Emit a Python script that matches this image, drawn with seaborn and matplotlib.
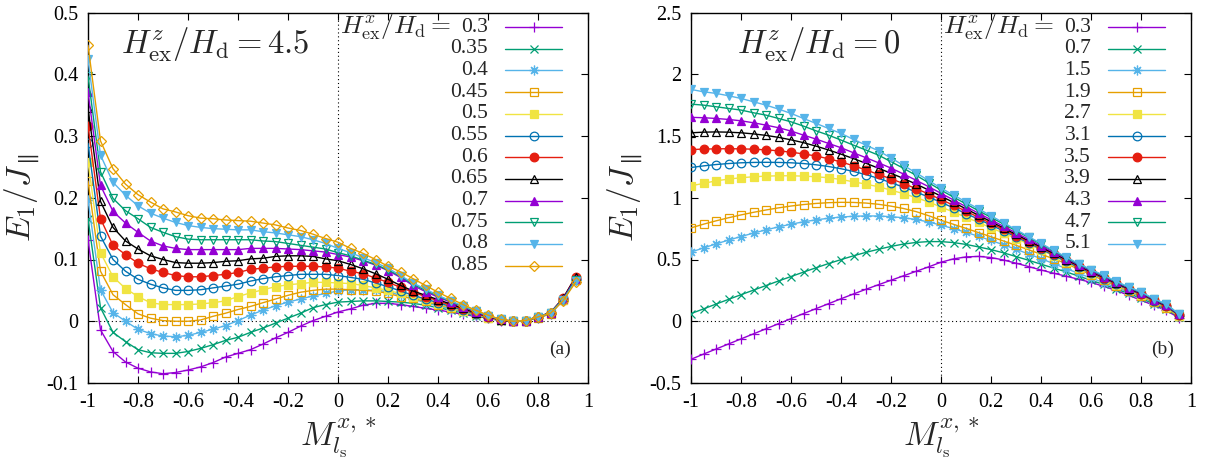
import matplotlib
matplotlib.use("Agg")
import matplotlib.pyplot as plt
import seaborn as sns
import pandas as pd

# ---------------- data ----------------
x_vals = [-1.0, -0.95, -0.9, -0.85, -0.8, -0.75, -0.7, -0.65, -0.6, -0.55,
          -0.5, -0.45, -0.4, -0.35, -0.3, -0.25, -0.2, -0.15, -0.1, -0.05,
          0.0, 0.05, 0.1, 0.15, 0.2, 0.25, 0.3, 0.35, 0.4, 0.45,
          0.5, 0.55, 0.6, 0.65, 0.7, 0.75, 0.8, 0.85, 0.9, 0.95]

# panel (a): H^z_ex/H_d = 4.5
labels_a = ["0.3", "0.35", "0.4", "0.45", "0.5", "0.55", "0.6", "0.65", "0.7", "0.75", "0.8", "0.85"]
a_03 = [0.132, -0.014, -0.049, -0.066, -0.076, -0.082, -0.085, -0.083, -0.079, -0.074, -0.067, -0.058, -0.052, -0.046, -0.037, -0.027, -0.018, -0.008, 0.001, 0.008, 0.015, 0.020, 0.026, 0.029, 0.029, 0.027, 0.024, 0.021, 0.018, 0.015, 0.011, 0.008, 0.005, 0.001, 0.000, 0.001, 0.006, 0.012, 0.035, 0.068]
a_035 = [0.166, 0.022, -0.018, -0.033, -0.046, -0.051, -0.052, -0.052, -0.049, -0.044, -0.038, -0.031, -0.026, -0.018, -0.011, -0.003, 0.005, 0.013, 0.022, 0.027, 0.031, 0.032, 0.033, 0.033, 0.032, 0.031, 0.029, 0.026, 0.022, 0.018, 0.013, 0.009, 0.005, 0.001, 0.000, 0.001, 0.006, 0.012, 0.035, 0.068]
a_04 = [0.197, 0.051, 0.014, 0.000, -0.013, -0.020, -0.024, -0.025, -0.023, -0.018, -0.013, -0.007, 0.001, 0.010, 0.018, 0.025, 0.031, 0.036, 0.041, 0.045, 0.049, 0.051, 0.051, 0.050, 0.048, 0.042, 0.036, 0.030, 0.025, 0.020, 0.015, 0.010, 0.006, 0.002, 0.000, 0.001, 0.006, 0.012, 0.035, 0.067]
a_045 = [0.227, 0.081, 0.043, 0.027, 0.012, 0.005, 0.001, 0.000, 0.000, 0.002, 0.008, 0.013, 0.019, 0.024, 0.030, 0.036, 0.042, 0.047, 0.050, 0.052, 0.052, 0.051, 0.050, 0.049, 0.045, 0.040, 0.037, 0.032, 0.027, 0.022, 0.016, 0.011, 0.006, 0.002, 0.000, 0.001, 0.006, 0.012, 0.035, 0.066]
a_05 = [0.258, 0.111, 0.072, 0.053, 0.040, 0.030, 0.027, 0.027, 0.027, 0.028, 0.030, 0.033, 0.040, 0.046, 0.051, 0.056, 0.059, 0.061, 0.063, 0.063, 0.062, 0.061, 0.058, 0.054, 0.050, 0.045, 0.039, 0.034, 0.028, 0.023, 0.017, 0.012, 0.006, 0.002, 0.000, 0.001, 0.007, 0.013, 0.035, 0.068]
a_055 = [0.288, 0.138, 0.100, 0.081, 0.068, 0.060, 0.054, 0.050, 0.050, 0.051, 0.054, 0.057, 0.060, 0.065, 0.069, 0.072, 0.074, 0.076, 0.076, 0.076, 0.074, 0.071, 0.068, 0.062, 0.056, 0.049, 0.042, 0.036, 0.030, 0.024, 0.018, 0.012, 0.007, 0.002, 0.000, 0.001, 0.007, 0.013, 0.036, 0.069]
a_06 = [0.317, 0.166, 0.123, 0.108, 0.094, 0.085, 0.079, 0.074, 0.072, 0.072, 0.074, 0.076, 0.079, 0.084, 0.086, 0.088, 0.089, 0.089, 0.089, 0.088, 0.086, 0.081, 0.077, 0.070, 0.063, 0.055, 0.047, 0.040, 0.033, 0.026, 0.020, 0.013, 0.007, 0.002, 0.000, 0.001, 0.007, 0.014, 0.037, 0.072]
a_065 = [0.345, 0.194, 0.152, 0.130, 0.117, 0.106, 0.100, 0.095, 0.094, 0.094, 0.095, 0.097, 0.098, 0.101, 0.102, 0.105, 0.106, 0.106, 0.105, 0.101, 0.098, 0.092, 0.085, 0.077, 0.068, 0.058, 0.049, 0.042, 0.035, 0.028, 0.021, 0.014, 0.008, 0.002, 0.000, 0.001, 0.007, 0.014, 0.037, 0.071]
a_07 = [0.371, 0.220, 0.178, 0.159, 0.144, 0.130, 0.122, 0.118, 0.116, 0.116, 0.116, 0.116, 0.116, 0.118, 0.118, 0.118, 0.117, 0.116, 0.114, 0.112, 0.108, 0.104, 0.098, 0.091, 0.082, 0.071, 0.058, 0.048, 0.039, 0.031, 0.023, 0.015, 0.008, 0.003, 0.000, 0.001, 0.007, 0.014, 0.036, 0.069]
a_075 = [0.397, 0.242, 0.199, 0.179, 0.166, 0.152, 0.144, 0.137, 0.133, 0.132, 0.132, 0.132, 0.132, 0.132, 0.130, 0.129, 0.126, 0.123, 0.120, 0.117, 0.111, 0.106, 0.099, 0.092, 0.083, 0.073, 0.060, 0.050, 0.041, 0.032, 0.024, 0.016, 0.009, 0.003, 0.000, 0.001, 0.007, 0.014, 0.035, 0.067]
a_08 = [0.424, 0.269, 0.225, 0.204, 0.187, 0.175, 0.167, 0.160, 0.155, 0.152, 0.150, 0.149, 0.148, 0.148, 0.145, 0.143, 0.140, 0.137, 0.132, 0.126, 0.118, 0.111, 0.103, 0.095, 0.086, 0.074, 0.062, 0.052, 0.042, 0.033, 0.025, 0.017, 0.009, 0.003, 0.000, 0.001, 0.007, 0.013, 0.034, 0.065]
a_085 = [0.447, 0.292, 0.247, 0.222, 0.205, 0.193, 0.182, 0.177, 0.171, 0.167, 0.166, 0.164, 0.163, 0.162, 0.159, 0.156, 0.151, 0.147, 0.141, 0.134, 0.128, 0.118, 0.110, 0.100, 0.089, 0.080, 0.069, 0.058, 0.047, 0.037, 0.027, 0.018, 0.010, 0.003, 0.000, 0.001, 0.007, 0.013, 0.033, 0.063]
series_a = [a_03, a_035, a_04, a_045, a_05, a_055, a_06, a_065, a_07, a_075, a_08, a_085]

# panel (b): H^z_ex/H_d = 0
labels_b = ["0.3", "0.7", "1.5", "1.9", "2.7", "3.1", "3.5", "3.9", "4.3", "4.7", "5.1"]
b_03 = [-0.308, -0.266, -0.225, -0.184, -0.143, -0.102, -0.061, -0.020, 0.021, 0.062, 0.102, 0.142, 0.182, 0.221, 0.259, 0.296, 0.332, 0.368, 0.404, 0.440, 0.478, 0.505, 0.521, 0.525, 0.516, 0.496, 0.470, 0.443, 0.415, 0.389, 0.365, 0.340, 0.315, 0.283, 0.250, 0.210, 0.170, 0.130, 0.088, 0.030]
b_07 = [0.062, 0.100, 0.139, 0.177, 0.215, 0.252, 0.289, 0.326, 0.362, 0.398, 0.433, 0.467, 0.499, 0.530, 0.558, 0.583, 0.606, 0.625, 0.638, 0.645, 0.645, 0.637, 0.622, 0.602, 0.580, 0.554, 0.524, 0.494, 0.462, 0.431, 0.400, 0.366, 0.332, 0.298, 0.262, 0.225, 0.186, 0.142, 0.098, 0.038]
b_15 = [0.560, 0.594, 0.626, 0.657, 0.686, 0.714, 0.740, 0.764, 0.786, 0.805, 0.821, 0.834, 0.844, 0.850, 0.853, 0.852, 0.847, 0.838, 0.824, 0.804, 0.778, 0.750, 0.720, 0.688, 0.654, 0.619, 0.583, 0.545, 0.507, 0.467, 0.427, 0.388, 0.350, 0.313, 0.275, 0.236, 0.198, 0.150, 0.106, 0.042]
b_19 = [0.756, 0.786, 0.813, 0.838, 0.861, 0.882, 0.901, 0.918, 0.933, 0.945, 0.954, 0.960, 0.963, 0.962, 0.957, 0.947, 0.932, 0.913, 0.888, 0.855, 0.818, 0.785, 0.752, 0.718, 0.684, 0.650, 0.615, 0.579, 0.543, 0.506, 0.468, 0.422, 0.376, 0.332, 0.288, 0.245, 0.205, 0.155, 0.110, 0.040]
b_27 = [1.097, 1.116, 1.137, 1.151, 1.162, 1.170, 1.175, 1.178, 1.178, 1.175, 1.170, 1.162, 1.148, 1.129, 1.110, 1.089, 1.062, 1.033, 1.001, 0.966, 0.925, 0.884, 0.842, 0.800, 0.757, 0.714, 0.670, 0.625, 0.578, 0.530, 0.480, 0.432, 0.386, 0.341, 0.295, 0.251, 0.212, 0.161, 0.116, 0.046]
b_31 = [1.245, 1.258, 1.269, 1.277, 1.283, 1.286, 1.287, 1.286, 1.283, 1.277, 1.267, 1.253, 1.235, 1.213, 1.187, 1.157, 1.122, 1.086, 1.047, 1.006, 0.963, 0.918, 0.872, 0.826, 0.779, 0.731, 0.683, 0.634, 0.584, 0.535, 0.485, 0.436, 0.390, 0.346, 0.300, 0.256, 0.217, 0.165, 0.120, 0.050]
b_35 = [1.390, 1.394, 1.396, 1.397, 1.396, 1.393, 1.388, 1.380, 1.369, 1.355, 1.338, 1.316, 1.290, 1.259, 1.225, 1.189, 1.153, 1.115, 1.074, 1.031, 0.986, 0.939, 0.891, 0.842, 0.792, 0.743, 0.693, 0.643, 0.594, 0.544, 0.495, 0.445, 0.397, 0.352, 0.306, 0.262, 0.222, 0.170, 0.125, 0.053]
b_39 = [1.526, 1.531, 1.533, 1.531, 1.526, 1.517, 1.505, 1.489, 1.469, 1.446, 1.418, 1.387, 1.353, 1.317, 1.279, 1.239, 1.198, 1.156, 1.111, 1.063, 1.013, 0.962, 0.910, 0.858, 0.806, 0.755, 0.703, 0.652, 0.601, 0.550, 0.500, 0.450, 0.402, 0.357, 0.310, 0.265, 0.226, 0.173, 0.128, 0.055]
b_43 = [1.651, 1.648, 1.642, 1.634, 1.623, 1.607, 1.588, 1.567, 1.540, 1.507, 1.475, 1.440, 1.405, 1.364, 1.324, 1.283, 1.240, 1.192, 1.142, 1.090, 1.036, 0.982, 0.928, 0.875, 0.822, 0.768, 0.716, 0.663, 0.611, 0.559, 0.508, 0.456, 0.408, 0.362, 0.315, 0.270, 0.230, 0.176, 0.132, 0.056]
b_47 = [1.758, 1.750, 1.737, 1.723, 1.710, 1.688, 1.669, 1.642, 1.615, 1.580, 1.542, 1.507, 1.467, 1.426, 1.386, 1.345, 1.292, 1.238, 1.182, 1.122, 1.062, 1.005, 0.950, 0.895, 0.841, 0.787, 0.733, 0.679, 0.624, 0.569, 0.515, 0.462, 0.414, 0.368, 0.320, 0.274, 0.234, 0.180, 0.136, 0.058]
b_51 = [1.877, 1.858, 1.845, 1.826, 1.804, 1.777, 1.750, 1.718, 1.683, 1.642, 1.602, 1.561, 1.521, 1.472, 1.426, 1.380, 1.322, 1.262, 1.202, 1.140, 1.078, 1.022, 0.966, 0.910, 0.854, 0.798, 0.742, 0.686, 0.630, 0.575, 0.521, 0.467, 0.419, 0.373, 0.324, 0.278, 0.238, 0.184, 0.140, 0.062]
series_b = [b_03, b_07, b_15, b_19, b_27, b_31, b_35, b_39, b_43, b_47, b_51]

x_ticks = [-1, -0.8, -0.6, -0.4, -0.2, 0, 0.2, 0.4, 0.6, 0.8, 1]
x_tick_labels = ["-1", "-0.8", "-0.6", "-0.4", "-0.2", "0", "0.2", "0.4", "0.6", "0.8", "1"]
ya_ticks = [-0.1, 0, 0.1, 0.2, 0.3, 0.4, 0.5]
ya_tick_labels = ["-0.1", "0", "0.1", "0.2", "0.3", "0.4", "0.5"]
yb_ticks = [-0.5, 0, 0.5, 1, 1.5, 2, 2.5]
yb_tick_labels = ["-0.5", "0", "0.5", "1", "1.5", "2", "2.5"]

# ---------------- style ----------------
COLORS = ["#9400D3", "#009E73", "#56B4E9", "#E69F00", "#F0E442", "#0072B2",
          "#E51E10", "#000000", "#9400D3", "#009E73", "#56B4E9", "#E69F00"]
STYLES = [("+", True, 7), ("x", True, 5.5), ((8, 2, 0), True, 7), ("s", False, 5.8),
          ("s", True, 5.8), ("o", False, 6.2), ("o", True, 6.2), ("^", False, 6.2),
          ("^", True, 5.8), ("v", False, 6.2), ("v", True, 5.8), ("D", False, 5)]

sns.set_style("ticks")
plt.rcParams["font.family"] = ["Liberation Serif", "DejaVu Serif"]
plt.rcParams["mathtext.fontset"] = "cm"
plt.rcParams["axes.unicode_minus"] = False

fig = plt.figure(figsize=(12.14, 4.67), dpi=100)
ax_a = fig.add_axes([88 / 1214, 1 - 383 / 467, 500 / 1214, 370.5 / 467])
ax_b = fig.add_axes([691 / 1214, 1 - 383 / 467, 500 / 1214, 370.5 / 467])


def marker_kw(i):
    m, filled, ms = STYLES[i]
    c = COLORS[i]
    return dict(marker=m, markersize=ms, markeredgecolor=c,
                markerfacecolor=c if filled else "none", markeredgewidth=0.9)


def draw_panel(ax, series, labels, ylim, yt, ytl, title, tag):
    ax.axhline(0, color="black", lw=0.8, ls=(0, (1, 2.5)), zorder=1)
    ax.axvline(0, color="black", lw=0.8, ls=(0, (1, 2.5)), zorder=1)
    for i, vals in enumerate(series):
        df = pd.DataFrame({"M": x_vals, "E": vals})
        sns.lineplot(data=df, x="M", y="E", ax=ax, color=COLORS[i], lw=1.0,
                     estimator=None, sort=False, legend=False, zorder=3 + i,
                     **marker_kw(i))
    ax.set_xlim(-1, 1)
    ax.set_ylim(*ylim)
    ax.set_xticks(x_ticks)
    ax.set_xticklabels(x_tick_labels)
    ax.set_yticks(yt)
    ax.set_yticklabels(ytl)
    ax.tick_params(direction="in", top=True, right=True, length=5, width=0.8,
                   labelsize=14.5, pad=7, colors="black")
    for s in ax.spines.values():
        s.set_linewidth(1.0)
        s.set_color("black")
    ax.set_xlabel(r"$M_{l_{\rm s}}^{x,*}$", fontsize=24)
    ax.set_ylabel(r"$E_1/J_{\parallel}$", fontsize=24)
    ax.text(0.255, 0.912, title, transform=ax.transAxes, ha="center", va="center", fontsize=23.5)
    ax.text(0.944, 0.09, tag, transform=ax.transAxes, ha="center", va="center", fontsize=14)
    # key (gnuplot-style: label then sample)
    for i, lab in enumerate(labels):
        ypx = 27 + 21.7 * i
        yf = 1 - (ypx - 12.5) / 370.5
        ax.text(0.80, yf, lab, transform=ax.transAxes, ha="right", va="center", fontsize=15.5)
        if i == 0:
            ax.text(0.727, yf, r"$H^x_{\rm ex}/H_{\rm d}=$", transform=ax.transAxes,
                    ha="right", va="center", fontsize=18.5)
        ax.plot([0.834, 0.948], [yf, yf], transform=ax.transAxes, color=COLORS[i],
                lw=1.0, clip_on=False, zorder=20)
        ax.plot([0.891], [yf], transform=ax.transAxes, color=COLORS[i], lw=0,
                clip_on=False, zorder=21, **marker_kw(i))


draw_panel(ax_a, series_a, labels_a, (-0.1, 0.5), ya_ticks, ya_tick_labels,
           r"$H^z_{\rm ex}/H_{\rm d}=4.5$", "(a)")
draw_panel(ax_b, series_b, labels_b, (-0.5, 2.5), yb_ticks, yb_tick_labels,
           r"$H^z_{\rm ex}/H_{\rm d}=0$", "(b)")

ax_a.yaxis.set_label_coords(-0.092, 0.5)
ax_b.yaxis.set_label_coords(-0.092, 0.5)
ax_a.xaxis.set_label_coords(0.5, -0.088)
ax_b.xaxis.set_label_coords(0.5, -0.088)

fig.savefig("out.png", dpi=100)
